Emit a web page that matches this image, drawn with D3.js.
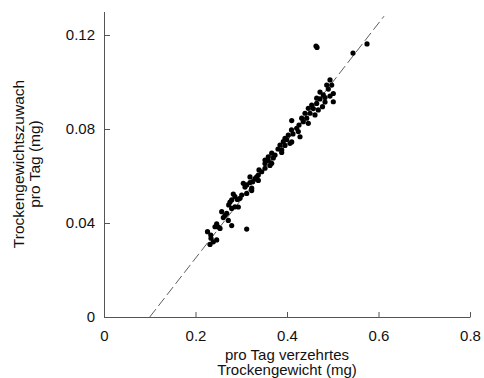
<!DOCTYPE html>
<html>
<head>
<meta charset="utf-8">
<script src="https://cdn.jsdelivr.net/npm/d3@7"></script>
<style>
  html, body { margin: 0; padding: 0; background: #fff; }
  svg text { font-family: "Liberation Sans", Arial, sans-serif; fill: #111; }
</style>
</head>
<body>
<svg id="chart" width="484" height="378"></svg>
<script>
// consumed dry weight per day (mg)
const verzehrt = [
  0.4634, 0.4656, 0.5443, 0.5749, 0.4940, 0.4977, 0.4868, 0.4903, 0.4721, 0.5012,
  0.4793, 0.4940, 0.4831, 0.4649, 0.4721, 0.5012, 0.4831, 0.4649, 0.4540, 0.4776,
  0.4466, 0.4575, 0.4684, 0.4393, 0.4503, 0.4612, 0.4321, 0.4431, 0.4103, 0.4356,
  0.4466, 0.4262, 0.4212, 0.4098, 0.4247, 0.4028, 0.4284, 0.4131, 0.3956, 0.3993,
  0.3919, 0.4066, 0.4103, 0.3847, 0.3956, 0.3884, 0.3803, 0.3884, 0.3738, 0.3666,
  0.3591, 0.3701, 0.3519, 0.3591, 0.3666, 0.3519, 0.3628, 0.3519, 0.3447, 0.3388,
  0.3373, 0.3338, 0.3301, 0.3373, 0.3191, 0.3250, 0.3191, 0.3045, 0.3119, 0.3082,
  0.3228, 0.3228, 0.3119, 0.3010, 0.2826, 0.2863, 0.2973, 0.2914, 0.2791, 0.2754,
  0.2726, 0.2863, 0.2936, 0.2791, 0.2573, 0.2682, 0.2645, 0.2608, 0.2717, 0.2791,
  0.2463, 0.2426, 0.2498, 0.2536, 0.3119, 0.2262, 0.2334, 0.2339, 0.2463, 0.2389,
  0.2317
];
// dry weight gain per day (mg)
const zuwachs = [
  0.1153, 0.1147, 0.1123, 0.1162, 0.1009, 0.0987, 0.0987, 0.0970, 0.0957, 0.0951,
  0.0945, 0.0940, 0.0934, 0.0931, 0.0928, 0.0916, 0.0915, 0.0909, 0.0902, 0.0895,
  0.0888, 0.0887, 0.0881, 0.0867, 0.0867, 0.0860, 0.0846, 0.0846, 0.0836, 0.0831,
  0.0824, 0.0817, 0.0803, 0.0796, 0.0789, 0.0774, 0.0767, 0.0779, 0.0760, 0.0755,
  0.0746, 0.0739, 0.0745, 0.0732, 0.0730, 0.0711, 0.0715, 0.0700, 0.0689, 0.0697,
  0.0682, 0.0677, 0.0668, 0.0666, 0.0654, 0.0653, 0.0645, 0.0633, 0.0618, 0.0626,
  0.0604, 0.0596, 0.0589, 0.0581, 0.0596, 0.0576, 0.0572, 0.0569, 0.0562, 0.0553,
  0.0548, 0.0538, 0.0526, 0.0519, 0.0523, 0.0512, 0.0505, 0.0500, 0.0498, 0.0489,
  0.0477, 0.0469, 0.0468, 0.0462, 0.0448, 0.0441, 0.0432, 0.0423, 0.0411, 0.0389,
  0.0396, 0.0384, 0.0383, 0.0377, 0.0374, 0.0363, 0.0349, 0.0335, 0.0328, 0.0320,
  0.0309
];
// regression line: y = slope * x + intercept
const lineX = [0.1, 0.612];
const slope = 0.25;
const intercept = -0.025;

const xTicks = [0, 0.2, 0.4, 0.6, 0.8];
const yTicks = [0, 0.04, 0.08, 0.12];
const xTitle = ["pro Tag verzehrtes", "Trockengewicht (mg)"];
const yTitle = ["Trockengewichtszuwach", "pro Tag (mg)"];

const svg = d3.select("#chart");
const plotLeft = 104, plotRight = 470, plotTop = 11.5, plotBottom = 317;

const x = d3.scaleLinear().domain([0, 0.8]).range([plotLeft, plotRight]);
const y = d3.scaleLinear().domain([0, 0.13]).range([plotBottom, plotTop]);

// axes
const xAxis = svg.append("g")
  .attr("transform", "translate(0," + plotBottom + ")")
  .call(d3.axisBottom(x).tickValues(xTicks).tickSizeInner(-5).tickSizeOuter(0)
    .tickFormat(d => d === 0 ? "0" : d3.format(".1f")(d)));
xAxis.selectAll("text").attr("y", 13).style("font-size", "15px");

const yAxis = svg.append("g")
  .attr("transform", "translate(" + plotLeft + ",0)")
  .call(d3.axisLeft(y).tickValues(yTicks).tickSizeInner(-6).tickSizeOuter(0)
    .tickFormat(d => d === 0 ? "0" : d3.format(".2f")(d)));
yAxis.selectAll("text").attr("x", -9).style("font-size", "15px");

svg.selectAll(".domain").attr("stroke", "#555");
svg.selectAll(".tick line").attr("stroke", "#555");

// dashed line
svg.append("path")
  .datum(lineX)
  .attr("fill", "none")
  .attr("stroke", "#333")
  .attr("stroke-width", 0.8)
  .attr("stroke-dasharray", "10,4")
  .attr("d", d3.line().x(d => x(d)).y(d => y(slope * d + intercept)));

// points
svg.append("g").selectAll("circle")
  .data(d3.range(verzehrt.length))
  .enter()
  .append("circle")
  .attr("cx", i => x(verzehrt[i]))
  .attr("cy", i => y(zuwachs[i]))
  .attr("r", 2.6)
  .attr("fill", "#000");

// titles
svg.append("g").selectAll("text")
  .data(xTitle)
  .enter()
  .append("text")
  .attr("x", 287)
  .attr("y", (d, i) => 360 + i * 15)
  .attr("text-anchor", "middle")
  .style("font-size", "15px")
  .text(d => d);

svg.append("g").selectAll("text")
  .data(yTitle)
  .enter()
  .append("text")
  .attr("transform", (d, i) => "translate(" + (24 + i * 16) + ",164) rotate(-90)")
  .attr("text-anchor", "middle")
  .style("font-size", "15.5px")
  .text(d => d);
</script>
</body>
</html>
